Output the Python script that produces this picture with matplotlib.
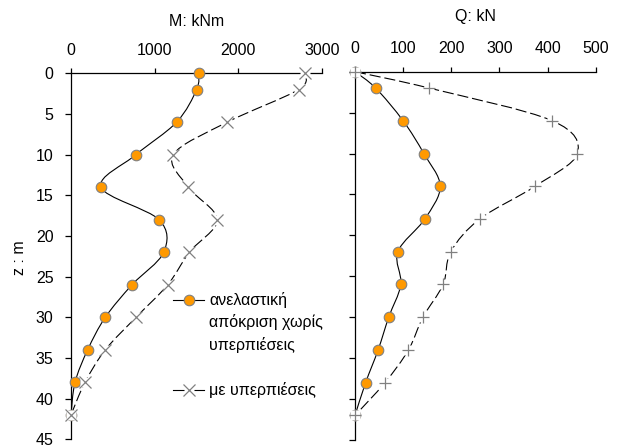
import numpy as np
import matplotlib
matplotlib.use("Agg")
import matplotlib.pyplot as plt
from matplotlib.path import Path
from matplotlib.patches import PathPatch
from matplotlib.lines import Line2D

plt.rcParams['font.family'] = ['Liberation Sans', 'DejaVu Sans']
plt.rcParams['font.size'] = 11.5

# ---------------- data ----------------
depth = [0, 2, 6, 10, 14, 18, 22, 26, 30, 34, 38, 42]
M_inelastic = [1526, 1502, 1263, 777, 359, 1052, 1108, 729, 410, 199, 48, 0]
M_pore = [2800, 2720, 1869, 1223, 1402, 1749, 1414, 1156, 777, 410, 167, 0]
Q_inelastic = [0, 43, 100, 143, 177, 145, 89, 95, 70, 48, 22, 0]
Q_pore = [0, 154, 410, 462, 374, 259, 199, 183, 141, 111, 62, 0]

M_ticks = [0, 1000, 2000, 3000]
Q_ticks = [0, 100, 200, 300, 400, 500]
z_ticks = [0, 5, 10, 15, 20, 25, 30, 35, 40, 45]

label_inelastic = ["ανελαστική", "απόκριση χωρίς", "υπερπιέσεις"]
label_pore = "με υπερπιέσεις"
xlabel_M = "M: kNm"
xlabel_Q = "Q: kN"
ylabel = "z : m"

# ---------------- style ----------------
ORANGE = '#FF9900'
GREY = '#808080'
W, H = 622, 445


def smooth_path(x, y):
    pts = np.column_stack([np.asarray(x, float), np.asarray(y, float)])
    n = len(pts)
    verts = [pts[0]]
    codes = [Path.MOVETO]
    for i in range(n - 1):
        p0 = pts[i - 1] if i > 0 else pts[i]
        p1 = pts[i]
        p2 = pts[i + 1]
        p3 = pts[i + 2] if i + 2 < n else pts[i + 1]
        c1 = p1 + (p2 - p0) / 6.0
        c2 = p2 - (p3 - p1) / 6.0
        verts += [c1, c2, p2]
        codes += [Path.CURVE4] * 3
    return Path(np.array(verts), codes)


def draw_panel(ax, xin, xpore, pore_marker):
    ax.add_patch(PathPatch(smooth_path(xin, depth), fill=False, edgecolor='black',
                           lw=0.8, zorder=2))
    ax.add_patch(PathPatch(smooth_path(xpore, depth), fill=False, edgecolor='black',
                           lw=0.8, linestyle=(0, (10, 3.5)), zorder=2))
    ax.plot(xin, depth, linestyle='none', marker='o', markersize=7.6,
            markerfacecolor=ORANGE, markeredgecolor=GREY, markeredgewidth=0.8,
            zorder=3, clip_on=False)
    ax.plot(xpore, depth, linestyle='none', marker='s', markersize=7.5,
            markerfacecolor='white', markeredgecolor='none', zorder=4, clip_on=False)
    ax.plot(xpore, depth, linestyle='none', marker=pore_marker, markersize=8.5,
            markeredgecolor=GREY, markeredgewidth=0.9, zorder=5, clip_on=False)


def style_axes(ax, xlim, xticks, show_ylabels):
    ax.set_xlim(*xlim)
    ax.set_ylim(45, 0)
    ax.xaxis.tick_top()
    ax.set_xticks(xticks)
    ax.set_yticks(z_ticks)
    for s in ['bottom', 'right']:
        ax.spines[s].set_visible(False)
    for s in ['top', 'left']:
        ax.spines[s].set_linewidth(0.9)
        ax.spines[s].set_color('black')
    ax.tick_params(axis='x', direction='out', length=3.8, width=0.9, pad=7.5,
                   labelsize=11.5)
    ax.tick_params(axis='y', direction='out', length=4.0, width=0.9, pad=8.5,
                   labelsize=11.5, labelleft=show_ylabels)
    ax.patch.set_visible(False)


fig = plt.figure(figsize=(W / 100, H / 100), dpi=100)

axM = fig.add_axes([71 / W, 1 - 439.3 / H, (322 - 71) / W, (439.3 - 73.3) / H])
axQ = fig.add_axes([355 / W, 1 - 440 / H, (595.7 - 355) / W, (440 - 71.7) / H])

draw_panel(axM, M_inelastic, M_pore, 'x')
draw_panel(axQ, Q_inelastic, Q_pore, '+')
style_axes(axM, (0, 3000), M_ticks, True)
style_axes(axQ, (0, 500), Q_ticks, False)

fig.text(196.5 / W, 1 - 21.7 / H, xlabel_M, ha='center', va='center', fontsize=11.5)
fig.text(475.5 / W, 1 - 16.7 / H, xlabel_Q, ha='center', va='center', fontsize=11.5)
fig.text(20 / W, 1 - 258 / H, ylabel, ha='center', va='center', rotation=90,
         fontsize=11.5)

# ---------------- legend (drawn manually) ----------------
def fx(px):
    return px / W


def fy(py):
    return 1 - py / H


y1 = 300
fig.add_artist(Line2D([fx(173), fx(204)], [fy(y1), fy(y1)], color='black', lw=0.8,
                      transform=fig.transFigure))
fig.add_artist(Line2D([fx(188.5)], [fy(y1)], linestyle='none', marker='o',
                      markersize=7.6, markerfacecolor=ORANGE, markeredgecolor=GREY,
                      markeredgewidth=0.8, transform=fig.transFigure))
for i, t in enumerate(label_inelastic):
    fig.text(fx(209), fy(y1 + i * 22.5), t, ha='left', va='center', fontsize=11.5)

y2 = 390
fig.add_artist(Line2D([fx(173), fx(204)], [fy(y2), fy(y2)], color='black', lw=0.8,
                      transform=fig.transFigure))
fig.add_artist(Line2D([fx(188.5)], [fy(y2)], linestyle='none', marker='s',
                      markersize=7.5, markerfacecolor='white', markeredgecolor='none',
                      transform=fig.transFigure))
fig.add_artist(Line2D([fx(188.5)], [fy(y2)], linestyle='none', marker='x',
                      markersize=8.5, markeredgecolor=GREY, markeredgewidth=0.9,
                      transform=fig.transFigure))
fig.text(fx(209), fy(y2), label_pore, ha='left', va='center', fontsize=11.5)

fig.savefig('out.png', dpi=100)
